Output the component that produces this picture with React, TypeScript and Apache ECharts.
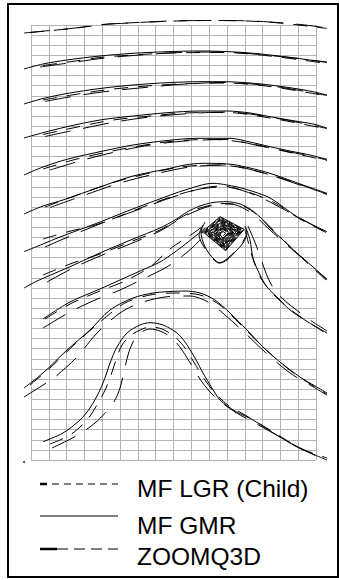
import React, { useEffect, useRef } from "react";
import * as echarts from "echarts";

// Coordinates of the pathlines (x to the right, y downward)
const line1Lgr = [[30,32.5],[72,28.5],[110,24],[150,22],[200,20.5],[240,20.8],[280,23],[327,28.5]];
const line1Zoom = [[24,33],[50,30.5],[75,28],[102,24.5],[130,23],[170,21],[220,20.5],[253,21],[283,23],[305,25],[327,28]];

const line2Gmr = [[24,69],[43,64],[67,60],[100,56],[133,53.3],[167,51.7],[200,51],[225,51.5],[250,53],[270,55],[295,58],[313,60.5],[327,62.5]];
const line2Lgr = [[43,65.5],[72,61.5],[100,57.5],[133,55],[170,53],[225,52.5],[270,56],[327,63.5]];
const line2Zoom = [[40,67],[72,62.5],[105,58],[140,55],[180,52.5],[220,52],[270,55.5],[327,62]];

const line3Gmr = [[24,104],[43,98.5],[67,93.5],[100,88.5],[133,85],[167,82.7],[200,81.7],[225,81.7],[250,83],[270,85],[295,88.5],[313,91.7],[327,95]];
const line3Lgr = [[43,100],[72,95],[105,90],[140,86.5],[180,84],[225,83],[270,86.5],[327,96]];
const line3Zoom = [[45,101.5],[75,96],[110,91],[145,87.5],[185,84],[225,82.5],[275,86.5],[327,95.5]];

const line4Gmr = [[24,138],[43,132.7],[67,126.7],[100,120],[133,116],[167,112.7],[200,111],[227,111],[250,113],[270,116.7],[295,121],[313,124],[327,128]];
const line4Lgr = [[43,134.5],[75,127.5],[110,120.5],[145,116.5],[185,113],[227,112.5],[270,118],[327,129]];
const line4Zoom = [[45,136.5],[80,129],[115,122],[150,117],[190,113.5],[227,112],[275,118],[327,128.5]];

const line5Gmr = [[24,175],[43,167],[67,159.3],[100,151.7],[133,145],[167,140.5],[197,138.3],[230,138.3],[250,142],[270,146.7],[290,151],[310,155],[327,159.3]];
const line5Lgr = [[43,169],[75,159.5],[110,151.5],[145,145],[180,140.5],[215,139.5],[250,143.5],[290,152.5],[327,160.5]];
const line5Zoom = [[50,170],[85,159.5],[115,152],[150,145],[185,141],[225,139.5],[260,146],[300,154],[327,160]];

const line6Gmr = [[24,214],[43,206],[63,200],[100,187],[133,176],[167,169],[185,165],[203,163.3],[220,163.5],[233,164.5],[250,168],[270,173.3],[303,185],[327,193.3]];
const line6Lgr = [[45,207],[80,194],[115,182],[150,173],[185,166.5],[220,165],[250,169.5],[290,181],[327,194.5]];
const line6Zoom = [[50,207.5],[85,195],[120,183],[155,174],[190,167],[225,165],[260,172],[300,185],[327,194]];

const line7Gmr = [[24,251.7],[43,244],[60,237],[100,222],[130,210],[157,200],[185,190],[213,183.3],[227,185],[245,189],[270,198],[297,216.7],[327,231.7]];
const line7Lgr = [[43,239],[67,232],[100,223.5],[135,210],[165,199],[195,190],[220,186],[245,191],[275,203],[300,219],[327,233]];
const line7Zoom = [[45,247],[75,234],[110,220],[140,209],[170,198],[200,189],[225,187],[255,195],[285,210],[327,233]];

const line8Gmr = [[24,288],[37,281],[67,268],[100,253],[133,239],[160,228],[175,220],[187,212],[200,206],[213,202.5],[227,201.7],[240,204],[250,209],[260,217],[270,228],[283,240],[297,253],[312,266],[327,280]];
const line8Lgr = [[43,275],[70,264],[100,254],[130,242],[160,230],[180,218],[200,208],[225,203.5],[245,207],[262,219],[280,237],[300,256],[327,281]];
const line8Zoom = [[47,282],[73,268],[100,256],[130,244],[160,231],[185,216],[210,206],[230,204],[250,212],[270,230],[295,252],[327,279]];

const line9Gmr = [[43,319],[70,302],[100,289],[120,280],[140,271],[160,262],[175,252],[188,242],[198,234],[205,228]];
const line9Lgr = [[45,319],[72,303],[100,291],[125,281],[150,267],[170,249],[183,240],[195,232],[203,226]];
const line9Zoom = [[43,328],[70,312],[95,300],[120,290],[145,278],[165,268],[180,258],[192,248],[200,240]];

const loopGmr = [[205,222],[201,232],[203,242],[208,252],[215,260],[220,263],[227,260],[235,252],[243,243],[247,233],[245,226]];
const loopZoom = [[203,225],[199,235],[204,247],[212,258],[219,263],[228,258],[240,246],[246,236]];

const outGmr = [[246,228],[250,240],[253,258],[260,275],[267,287],[280,300],[290,310],[308,322],[327,333]];
const outLgr = [[245,230],[249,245],[254,262],[262,280],[275,296],[295,313],[327,334]];
const outZoom = [[248,226],[256,245],[262,262],[268,278],[276,292],[290,305],[310,320],[327,331]];

const line10Gmr = [[24,388],[43,373],[67,350],[90,330],[110,310],[133,298],[153,293],[170,291.5],[185,291],[200,293],[215,300],[230,313],[247,330],[263,347],[280,362],[300,377],[315,386],[327,393]];
const line10Lgr = [[30,385],[50,368],[75,344],[100,322],[125,303],[150,295],[175,293],[200,295],[220,305],[240,324],[265,349],[295,374],[327,394]];
const line10Zoom = [[24,397],[40,387],[55,377],[77,357],[97,333],[120,313],[140,303],[165,297],[190,296],[210,303],[225,315],[245,333],[265,352],[290,373],[310,385],[327,395]];

const hillGmr = [[43,441.7],[63,433],[80,420],[90,408],[100,390],[106,375],[110,363],[117,347],[127,333],[140,325],[150,322.7],[163,325],[177,333],[185,342],[195,358],[203,373],[212,388],[220,400],[235,411],[253,420],[275,434],[297,447],[315,455],[327,460]];
const hillLgr = [[50,444],[70,435],[87,420],[97,405],[106,388],[112,372],[117,357],[122,345],[130,336],[140,330],[150,327],[162,329],[175,337],[185,348],[195,364],[205,380],[215,393],[228,405],[245,415],[270,430],[300,448],[327,458]];
const hillZoom = [[52,448],[78,435],[95,423],[106,412],[115,400],[120,388],[124,372],[128,355],[133,342],[140,333],[150,329],[160,331],[172,338],[182,350],[192,366],[202,382],[215,397],[235,412],[255,423],[280,437],[300,448],[327,461]];

// Spiral around the well
const spiralGmr = [[201,233],[220.1,216.7],[244.2,229.4],[225.6,250.7],[204.5,233.2],[220.6,219.6],[240.5,230.2],[225.2,247.7],[208,233.3],[221.1,222.5],[236.8,231],[224.7,244.6],[211.6,233.5],[221.6,225.4],[233.1,231.8],[224.2,241.6],[215.1,233.6],[222,228.2],[229.4,232.6],[223.7,238.6],[218.6,233.8],[222.5,231.1],[225.8,233.4],[223.2,235.5]];
const spiralZoom = [[202.1,233.1],[220.3,217.6],[243,229.7],[225.5,249.8],[205.6,233.2],[220.8,220.5],[239.3,230.5],[225,246.7],[209.1,233.4],[221.2,223.4],[235.7,231.3],[224.5,243.7],[212.7,233.5],[221.7,226.3],[232,232.1],[224.1,240.7],[216.2,233.7],[222.2,229.1],[228.3,232.9],[223.6,237.6],[219.7,233.9],[222.7,232]];
const spiralLgr = [[203.4,233.1],[220.5,218.7],[241.6,230],[225.3,248.6],[206.9,233.3],[220.9,221.6],[238,230.8],[224.8,245.6],[210.5,233.4],[221.4,224.5],[234.3,231.6],[224.4,242.6],[214,233.6],[221.9,227.3],[230.6,232.4],[223.9,239.5],[217.5,233.8],[222.4,230.2]];

const startDot = [[24,462]];

const gmrTracks = [line2Gmr, line3Gmr, line4Gmr, line5Gmr, line6Gmr, line7Gmr, line8Gmr, line9Gmr, loopGmr, outGmr, line10Gmr, hillGmr];
const lgrTracks = [line1Lgr, line2Lgr, line3Lgr, line4Lgr, line5Lgr, line6Lgr, line7Lgr, line8Lgr, line9Lgr, outLgr, line10Lgr, hillLgr];
const zoomTracks = [line1Zoom, line2Zoom, line3Zoom, line4Zoom, line5Zoom, line6Zoom, line7Zoom, line8Zoom, line9Zoom, loopZoom, outZoom, line10Zoom, hillZoom];

const legendNames = ["MF LGR (Child)", "MF GMR", "ZOOMQ3D"];
const gridCols = 16;
const gridRows = 43;

export default function App() {
  const ref = useRef<HTMLDivElement>(null);
  useEffect(() => {
    document.body.style.margin = "0";
    const chart = echarts.init(ref.current!, null, { renderer: "svg" });
    const mk = (data: number[][], dash: any, smooth: number | boolean) => ({
      type: "line",
      xAxisIndex: 1,
      yAxisIndex: 1,
      data,
      symbol: "none",
      showSymbol: false,
      smooth,
      clip: false,
      silent: true,
      lineStyle: { color: "#000", width: 1, type: dash },
    });
    const LGR_DASH = [14, 10];
    const ZOOM_DASH = [26, 13];
    const series: any[] = [];
    gmrTracks.forEach((d) => series.push(mk(d, "solid", 0.3)));
    lgrTracks.forEach((d) => series.push(mk(d, LGR_DASH, 0.3)));
    zoomTracks.forEach((d) => series.push(mk(d, ZOOM_DASH, 0.3)));
    series.push(mk(spiralGmr, "solid", false));
    series.push(mk(spiralLgr, [6, 2], false));
    series.push(mk(spiralZoom, [8, 2], false));
    series.push({
      type: "scatter",
      xAxisIndex: 1,
      yAxisIndex: 1,
      data: startDot,
      symbolSize: 2,
      itemStyle: { color: "#000" },
      silent: true,
    });

    const font = "'Liberation Sans', Arial, sans-serif";
    const legendRows = [
      { y: 484, ty: 488, dash: [7, 5], head: 7 },
      { y: 516, ty: 525, dash: null, head: 0 },
      { y: 549, ty: 556, dash: [11, 6], head: 17 },
    ];
    const graphic: any[] = [
      {
        type: "rect",
        shape: { x: 8, y: 4, width: 330, height: 573 },
        style: { fill: "none", stroke: "#000", lineWidth: 2 },
        silent: true,
      },
    ];
    legendRows.forEach((r, i) => {
      graphic.push({
        type: "line",
        shape: { x1: 40, y1: r.y, x2: 118, y2: r.y },
        style: { stroke: "#000", lineWidth: 1, lineDash: r.dash || undefined },
        silent: true,
      });
      if (r.head) {
        graphic.push({
          type: "line",
          shape: { x1: 40, y1: r.y, x2: 40 + r.head, y2: r.y },
          style: { stroke: "#000", lineWidth: 2.5 },
          silent: true,
        });
      }
      graphic.push({
        type: "text",
        x: 137,
        y: r.ty,
        style: {
          text: legendNames[i],
          fill: "#000",
          font: `24.5px ${font}`,
          textVerticalAlign: "middle",
          textAlign: "left",
        },
        silent: true,
      });
    });

    chart.setOption({
      animation: false,
      backgroundColor: "#fff",
      grid: [
        { left: 31, top: 25, width: 285, height: 435, show: false },
        { left: 21, top: 13, width: 310, height: 452, show: false },
      ],
      xAxis: [
        {
          type: "value", gridIndex: 0, min: 0, max: gridCols, interval: 1,
          axisLabel: { show: false }, axisTick: { show: false },
          axisLine: { show: false },
          splitLine: { show: true, showMinLine: true, showMaxLine: true, lineStyle: { color: "#b4b4b4", width: 1 } },
        },
        { type: "value", gridIndex: 1, min: 21, max: 331, show: false },
      ],
      yAxis: [
        {
          type: "value", gridIndex: 0, min: 0, max: gridRows, interval: 1,
          axisLabel: { show: false }, axisTick: { show: false },
          axisLine: { show: false },
          splitLine: { show: true, showMinLine: true, showMaxLine: true, lineStyle: { color: "#b4b4b4", width: 1 } },
        },
        { type: "value", gridIndex: 1, min: 13, max: 465, inverse: true, show: false },
      ],
      series,
      graphic,
    });
    return () => chart.dispose();
  }, []);
  return <div ref={ref} style={{ width: 339, height: 580 }} />;
}
